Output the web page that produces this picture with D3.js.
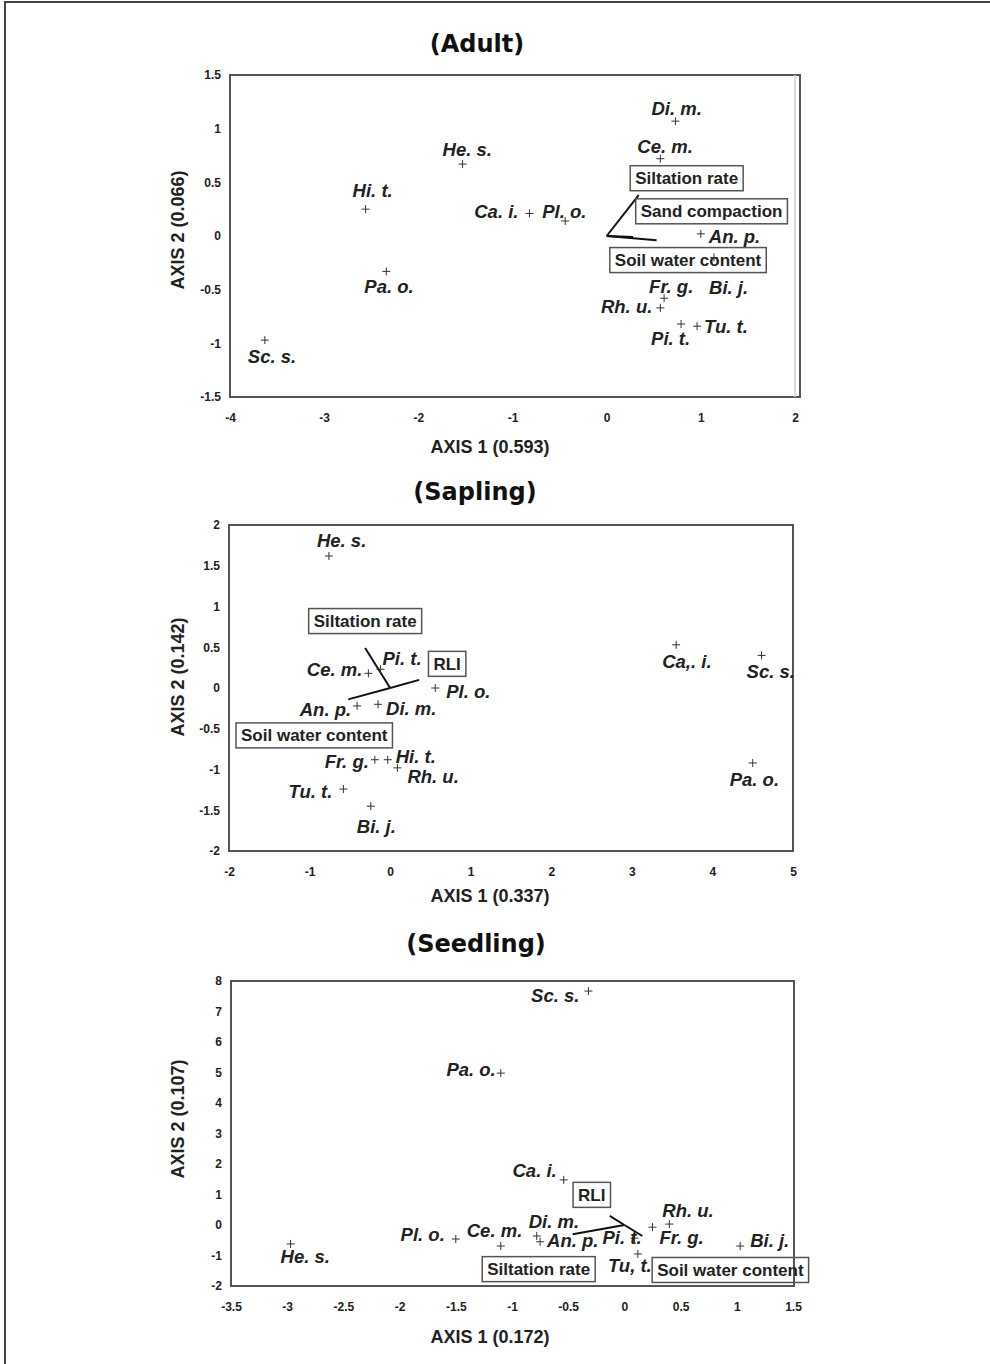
<!DOCTYPE html>
<html>
<head>
<meta charset="utf-8">
<script src="https://cdn.jsdelivr.net/npm/d3@7"></script>
<style>
    body { margin: 0; background: #fff; }
    .tick text { font-family: "Liberation Sans", Arial, sans-serif; font-weight: bold; font-size: 12px; fill: #222; }
    .title { font-family: "DejaVu Sans", sans-serif; font-weight: bold; font-size: 24px; fill: #111; }
    .label { font-family: "Liberation Sans", Arial, sans-serif; font-weight: bold; font-size: 18px; fill: #222; }
    .species { font-family: "Liberation Sans", Arial, sans-serif; font-weight: bold; font-style: italic; font-size: 18.5px; fill: #222; }
    .boxtext { font-family: "Liberation Sans", Arial, sans-serif; font-weight: bold; font-size: 17px; fill: #222; }
</style>
</head>
<body>
<svg id="chart" width="990" height="1364"></svg>
<script>

// Adult data
const adultSpecies = ["Sc. s.", "Hi. t.", "Pa. o.", "He. s.", "Ca. i.", "Pl. o.", "Di. m.", "Ce. m.", "An. p.", "Fr. g.", "Rh. u.", "Pi. t.", "Tu. t.", "Bi. j."];
const adultAxis1 = [-3.63, -2.56, -2.34, -1.53, -0.82, -0.44, 0.73, 0.57, 1.0, 0.61, 0.57, 0.79, 0.96, 1.14];
const adultAxis2 = [-0.97, 0.25, -0.33, 0.67, 0.21, 0.14, 1.07, 0.72, 0.02, -0.58, -0.67, -0.82, -0.84, -0.2];
const adultVectors = ["Siltation rate", "Sand compaction", "Soil water content"];
const adultVecAxis1 = [0.34, 0.53, 0.28];
const adultVecAxis2 = [0.38, -0.04, -0.01];
const adultXTicks = [-4, -3, -2, -1, 0, 1, 2];
const adultYTicks = [-1.5, -1, -0.5, 0, 0.5, 1, 1.5];

// Sapling data
const saplingSpecies = ["He. s.", "Ce. m.", "Pi. t.", "Pl. o.", "An. p.", "Di. m.", "Fr. g.", "Hi. t.", "Rh. u.", "Tu. t.", "Bi. j.", "Ca,. i.", "Sc. s.", "Pa. o."];
const saplingAxis1 = [-0.76, -0.27, -0.12, 0.56, -0.41, -0.15, -0.19, -0.03, 0.09, -0.58, -0.24, 3.55, 4.61, 4.50];
const saplingAxis2 = [1.62, 0.18, 0.23, 0.0, -0.22, -0.2, -0.88, -0.88, -0.98, -1.24, -1.45, 0.53, 0.40, -0.92];
const saplingVectors = ["Siltation rate", "RLI", "Soil water content"];
const saplingVecAxis1 = [-0.31, 0.36, -0.52];
const saplingVecAxis2 = [0.49, 0.10, -0.14];
const saplingXTicks = [-2, -1, 0, 1, 2, 3, 4, 5];
const saplingYTicks = [-2, -1.5, -1, -0.5, 0, 0.5, 1, 1.5, 2];

// Seedling data
const seedlingSpecies = ["He. s.", "Pl. o.", "Ce. m.", "Sc. s.", "Pa. o.", "Ca. i.", "Di. m.", "An. p.", "Pi. t.", "Tu, t.", "Rh. u.", "Fr. g.", "Bi. j."];
const seedlingAxis1 = [-2.97, -1.5, -1.10, -0.32, -1.10, -0.54, -0.78, -0.75, 0.09, 0.12, 0.40, 0.25, 1.03];
const seedlingAxis2 = [-0.62, -0.46, -0.69, 7.67, 4.98, 1.48, -0.36, -0.55, -0.43, -0.95, 0.03, -0.07, -0.69];
const seedlingVectors = ["RLI", "Siltation rate", "Soil water content"];
const seedlingVecAxis1 = [-0.13, -0.46, 0.16];
const seedlingVecAxis2 = [0.30, -0.30, -0.36];
const seedlingXTicks = [-3.5, -3, -2.5, -2, -1.5, -1, -0.5, 0, 0.5, 1, 1.5];
const seedlingYTicks = [-2, -1, 0, 1, 2, 3, 4, 5, 6, 7, 8];

// Label placement (pixel offsets from each point / vector tip)
const adultLabelPos = [[-17, 23, "start"], [-13, -12, "start"], [-22, 22, "start"], [-20, -8, "start"], [-11, 5, "end"], [-23, -3, "start"], [-24, -6, "start"], [-23, -6, "start"], [8, 9, "start"], [-15, -5, "start"], [-8, 5, "end"], [-30, 21, "start"], [7, 7, "start"], [-5, 37, "start"]];
const adultBoxPos = [[48, -17], [55, -29], [55, 23]];
const saplingLabelPos = [[-12, -9, "start"], [-6, 3, "end"], [2, -4, "start"], [11, 10, "start"], [-6, 10, "end"], [8, 11, "start"], [-6, 8, "end"], [8, 3, "start"], [10, 15, "start"], [-11, 9, "end"], [-14, 27, "start"], [-14, 23, "start"], [-15, 23, "start"], [-23, 23, "start"]];
const saplingBoxPos = [[0, -27], [28, -16], [-34, 36]];
const seedlingLabelPos = [[-10, 19, "start"], [-11, 2, "end"], [-34, -9, "start"], [-9, 11, "end"], [-5, 3, "end"], [-7, -3, "end"], [-8, -8, "start"], [7, 5, "start"], [-32, 6, "start"], [-30, 18, "start"], [-7, -7, "start"], [7, 17, "start"], [10, 1, "start"]];
const seedlingBoxPos = [[-18, -21], [-34, 35], [88, 34]];

const svg = d3.select("#chart");

// Outer frame (top and left edges only show in the picture)
svg.append("path")
    .attr("d", "M5,1364 V2 H990")
    .attr("fill", "none")
    .attr("stroke", "#444")
    .attr("stroke-width", 2);

function drawPanel(p) {
    const x = d3.scaleLinear().domain(p.xDomain).range([p.left, p.xEnd]);
    const y = d3.scaleLinear().domain(p.yDomain).range([p.bottom, p.top]);

    // Title
    svg.append("text")
        .attr("class", "title")
        .attr("x", p.titleX)
        .attr("y", p.titleY)
        .attr("text-anchor", "middle")
        .text(p.title);

    // Plot frame
    svg.append("rect")
        .attr("x", p.left)
        .attr("y", p.top)
        .attr("width", p.right - p.left)
        .attr("height", p.bottom - p.top)
        .attr("fill", "none")
        .attr("stroke", "#555")
        .attr("stroke-width", 2);
    if (p.right - p.xEnd > 2) {
        svg.append("line")
            .attr("x1", p.xEnd).attr("x2", p.xEnd)
            .attr("y1", p.top).attr("y2", p.bottom)
            .attr("stroke", "#ccc")
            .attr("stroke-width", 1.5);
    }

    // X axis
    const xAxis = svg.append("g")
        .attr("transform", "translate(0," + p.bottom + ")")
        .call(d3.axisBottom(x).tickValues(p.xTicks).tickSize(0).tickPadding(16).tickFormat(d => String(d)));
    xAxis.select(".domain").remove();

    // Y axis
    const yAxis = svg.append("g")
        .attr("transform", "translate(" + p.left + ",0)")
        .call(d3.axisLeft(y).tickValues(p.yTicks).tickSize(0).tickPadding(9).tickFormat(d => String(d)));
    yAxis.select(".domain").remove();

    // Axis titles
    svg.append("text")
        .attr("class", "label")
        .attr("x", 490)
        .attr("y", p.xTitleY)
        .attr("text-anchor", "middle")
        .text(p.xTitle);
    svg.append("text")
        .attr("class", "label")
        .attr("transform", "translate(184," + p.yTitleY + ") rotate(-90)")
        .attr("text-anchor", "middle")
        .text(p.yTitle);

    // Environmental vectors
    p.vectors.forEach(function (name, i) {
        svg.append("line")
            .attr("x1", x(0)).attr("y1", y(0))
            .attr("x2", x(p.vecX[i])).attr("y2", y(p.vecY[i]))
            .attr("stroke", "#111")
            .attr("stroke-width", 2);
    });

    // Vector boxes
    p.vectors.forEach(function (name, i) {
        const cx = x(p.vecX[i]) + p.boxPos[i][0];
        const cy = y(p.vecY[i]) + p.boxPos[i][1];
        const t = svg.append("text")
            .attr("class", "boxtext")
            .attr("x", cx)
            .attr("y", cy + 6)
            .attr("text-anchor", "middle")
            .text(name);
        const w = t.node().getComputedTextLength() + 10;
        svg.insert("rect", "text.boxtext")
            .attr("x", cx - w / 2)
            .attr("y", cy - 12.5)
            .attr("width", w)
            .attr("height", 25)
            .attr("fill", "none")
            .attr("stroke", "#555")
            .attr("stroke-width", 1.5);
    });

    // Species points
    const pts = svg.append("g").selectAll("g")
        .data(p.species)
        .enter()
        .append("g")
        .attr("transform", (d, i) => "translate(" + x(p.ax1[i]) + "," + y(p.ax2[i]) + ")");

    pts.append("path")
        .attr("d", "M-4,0H4M0,-4V4")
        .attr("stroke", "#333")
        .attr("stroke-width", 1);

    pts.append("text")
        .attr("class", "species")
        .attr("x", (d, i) => p.labelPos[i][0])
        .attr("y", (d, i) => p.labelPos[i][1])
        .attr("text-anchor", (d, i) => p.labelPos[i][2])
        .text(d => d);
}

drawPanel({
    title: "(Adult)", titleX: 477, titleY: 52,
    species: adultSpecies, ax1: adultAxis1, ax2: adultAxis2, labelPos: adultLabelPos,
    vectors: adultVectors, vecX: adultVecAxis1, vecY: adultVecAxis2, boxPos: adultBoxPos,
    xDomain: [-4, 2], yDomain: [-1.5, 1.5], xTicks: adultXTicks, yTicks: adultYTicks,
    left: 230, xEnd: 795, right: 800, top: 75, bottom: 397,
    xTitle: "AXIS 1 (0.593)", xTitleY: 453, yTitle: "AXIS 2 (0.066)", yTitleY: 230
});

drawPanel({
    title: "(Sapling)", titleX: 475, titleY: 500,
    species: saplingSpecies, ax1: saplingAxis1, ax2: saplingAxis2, labelPos: saplingLabelPos,
    vectors: saplingVectors, vecX: saplingVecAxis1, vecY: saplingVecAxis2, boxPos: saplingBoxPos,
    xDomain: [-2, 5], yDomain: [-2, 2], xTicks: saplingXTicks, yTicks: saplingYTicks,
    left: 229, xEnd: 793, right: 793, top: 525, bottom: 851,
    xTitle: "AXIS 1 (0.337)", xTitleY: 902, yTitle: "AXIS 2 (0.142)", yTitleY: 677
});

drawPanel({
    title: "(Seedling)", titleX: 476, titleY: 952,
    species: seedlingSpecies, ax1: seedlingAxis1, ax2: seedlingAxis2, labelPos: seedlingLabelPos,
    vectors: seedlingVectors, vecX: seedlingVecAxis1, vecY: seedlingVecAxis2, boxPos: seedlingBoxPos,
    xDomain: [-3.5, 1.5], yDomain: [-2, 8], xTicks: seedlingXTicks, yTicks: seedlingYTicks,
    left: 231, xEnd: 793, right: 794, top: 981, bottom: 1286,
    xTitle: "AXIS 1 (0.172)", xTitleY: 1343, yTitle: "AXIS 2 (0.107)", yTitleY: 1119
});

</script>
</body>
</html>
